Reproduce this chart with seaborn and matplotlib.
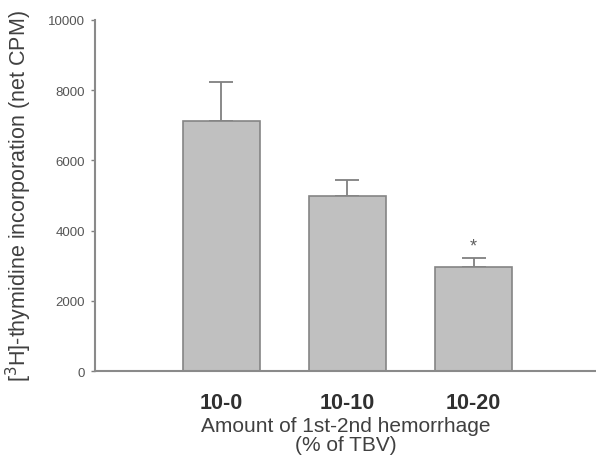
import matplotlib
matplotlib.use("Agg")
import matplotlib.pyplot as plt
import seaborn as sns
import pandas as pd
import numpy as np

categories = ["10-0", "10-10", "10-20"]
means = [7110, 4980, 2975]
sem = [1130, 450, 235]
significant = [False, False, True]
y_ticks = [0, 2000, 4000, 6000, 8000, 10000]

sns.set_style("ticks")
plt.rcParams["font.family"] = ["Liberation Sans", "DejaVu Sans"]

df = pd.DataFrame({"group": categories, "value": means})

fig = plt.figure(figsize=(5.96, 4.64), dpi=100)
ax = fig.add_axes([0.159, 0.198, 0.841, 0.757])

sns.barplot(data=df, x="group", y="value", ax=ax, color="#c0c0c0",
            edgecolor="#858585", linewidth=1.2, width=0.61, saturation=1, zorder=2)
ax.errorbar(range(len(categories)), means, yerr=[np.zeros(len(sem)), sem],
            fmt="none", ecolor="#808080", elinewidth=1.3, capsize=8.5,
            capthick=1.3, zorder=1)
for i, (m, s, sig) in enumerate(zip(means, sem, significant)):
    if sig:
        ax.annotate("*", xy=(i, m + s), xytext=(0, 3), textcoords="offset points",
                    ha="center", va="bottom", fontsize=13, color="#606060")

ax.set_xlim(-1.0, 2.97)
ax.set_ylim(0, 10000)
ax.set_yticks(y_ticks)
ax.set_yticklabels([str(t) for t in y_ticks], fontsize=9.5, color="#555555")
ax.tick_params(axis="y", length=3, width=1, color="#808080", pad=4)
ax.tick_params(axis="x", length=0, pad=15)
for lbl in ax.get_xticklabels():
    lbl.set_fontsize(15.5)
    lbl.set_fontweight("bold")
    lbl.set_color("#303030")

sns.despine(ax=ax)
for sp in ["left", "bottom"]:
    ax.spines[sp].set_color("#8a8a8a")
    ax.spines[sp].set_linewidth(1.5)

ax.set_xlabel("Amount of 1st-2nd hemorrhage\n(% of TBV)", fontsize=15,
              color="#404040", labelpad=2, linespacing=1.05)
ax.set_ylabel(r"[$^3$H]-thymidine incorporation (net CPM)", fontsize=15.5,
              color="#404040", labelpad=10)

fig.savefig("out.png", dpi=100)
